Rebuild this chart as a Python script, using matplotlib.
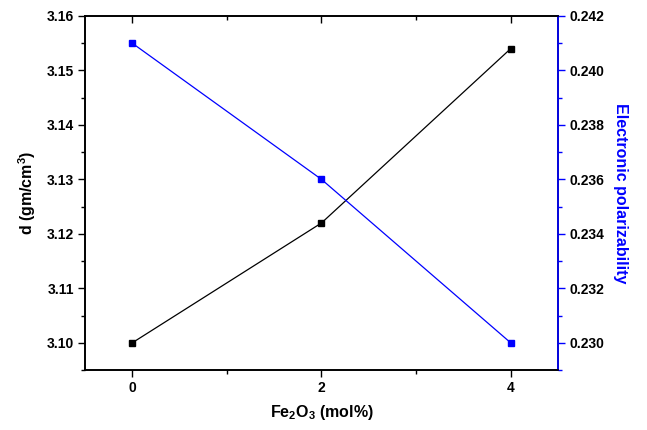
import matplotlib
matplotlib.use('Agg')
import matplotlib.pyplot as plt
from matplotlib.ticker import MultipleLocator

plt.rcParams['font.family'] = ['Liberation Sans', 'DejaVu Sans']
plt.rcParams['font.weight'] = 'bold'
plt.rcParams['mathtext.fontset'] = 'custom'
plt.rcParams['mathtext.rm'] = 'Liberation Sans:bold'
plt.rcParams['mathtext.it'] = 'Liberation Sans:bold'
plt.rcParams['mathtext.bf'] = 'Liberation Sans:bold'

# Fe2O3 content (mol%), density d (g/cm3), electronic polarizability
FE2O3 = [0, 2, 4]
DENSITY = [3.100, 3.122, 3.154]
POLARIZ = [0.241, 0.236, 0.230]

fig = plt.figure(figsize=(6.47, 4.30), dpi=100)
ax = fig.add_axes([0.1314, 0.1395, 0.7310, 0.8233])
ax2 = ax.twinx()

ax.plot(FE2O3, DENSITY, 's-', color='black', lw=0.9, ms=5)
ax2.plot(FE2O3, POLARIZ, 's-', color='blue', lw=0.9, ms=5)

ax.set_xlim(-0.5, 4.5)
ax.set_ylim(3.095, 3.16)
ax2.set_ylim(0.229, 0.242)

ax.xaxis.set_major_locator(MultipleLocator(2))
ax.xaxis.set_minor_locator(MultipleLocator(1))
ax.yaxis.set_major_locator(MultipleLocator(0.01))
ax.yaxis.set_minor_locator(MultipleLocator(0.005))
ax2.yaxis.set_major_locator(MultipleLocator(0.002))
ax2.yaxis.set_minor_locator(MultipleLocator(0.001))
ax.yaxis.set_major_formatter(matplotlib.ticker.FormatStrFormatter('%.2f'))
ax2.yaxis.set_major_formatter(matplotlib.ticker.FormatStrFormatter('%.3f'))

for a in (ax, ax2):
    for s in a.spines.values():
        s.set_linewidth(1.2)
ax2.spines['right'].set_color('blue')

ax.tick_params(axis='both', which='major', direction='out', length=5, width=1, labelsize=10, pad=3)
ax.tick_params(axis='both', which='minor', direction='out', length=3, width=1)
ax.tick_params(axis='x', which='both', top=True)
ax2.tick_params(axis='y', which='major', direction='out', length=5, width=1, color='blue',
                labelsize=10, labelcolor='black', pad=3)
ax2.tick_params(axis='y', which='minor', direction='out', length=3, width=1, color='blue')

# top ticks point into the plot
for t in ax.xaxis.get_major_ticks() + ax.xaxis.get_minor_ticks():
    t.tick2line.set_marker(matplotlib.lines.TICKDOWN)

ax.set_xlabel(r'Fe$_2$O$_3$ (mol%)', fontsize=11.5, fontweight='bold', labelpad=6)
ax.set_ylabel(r'd (gm/cm$^3$)', fontsize=11.5, fontweight='bold', labelpad=6)
ax2.set_ylabel('Electronic polarizability', fontsize=11.5, fontweight='bold', color='blue',
               rotation=-90, labelpad=17)

fig.savefig('out.png', dpi=100)
